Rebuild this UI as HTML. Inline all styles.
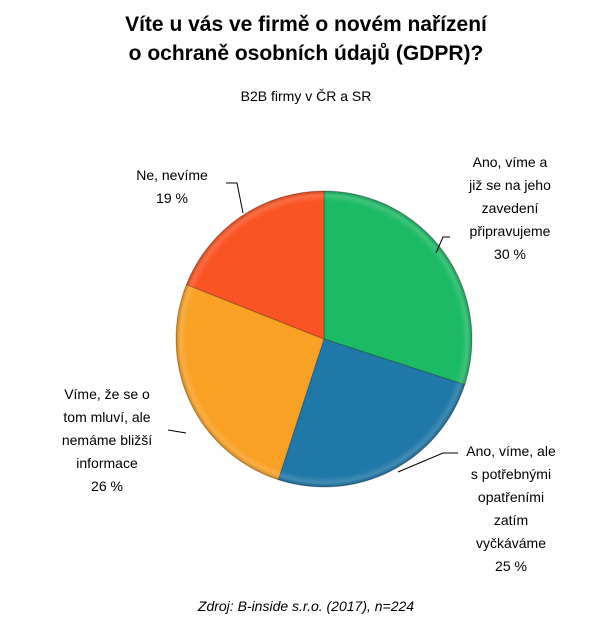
<!DOCTYPE html>
<html><head><meta charset="utf-8"><style>
body{margin:0;background:#fff;}
svg text{font-family:"Liberation Sans",sans-serif;fill:#000;}
</style></head><body>
<svg width="613" height="635" viewBox="0 0 613 635">
<defs>
<radialGradient id="bev" cx="50%" cy="50%" r="50%">
<stop offset="0.93" stop-color="#fff" stop-opacity="0"/>
<stop offset="0.97" stop-color="#fff" stop-opacity="0.15"/>
<stop offset="1" stop-color="#000" stop-opacity="0.2"/>
</radialGradient>
</defs>
<text x="306" y="31" text-anchor="middle" font-size="21" font-weight="bold">Víte u vás ve firmě o novém nařízení</text>
<text x="306" y="60" text-anchor="middle" font-size="21" font-weight="bold">o ochraně osobních údajů (GDPR)?</text>
<text x="306" y="101" text-anchor="middle" font-size="14">B2B firmy v ČR a SR</text>
<g id="slices"></g>
<circle cx="324" cy="339" r="148" fill="url(#bev)"/>
<g stroke="#000" stroke-width="1" fill="none">
<polyline points="226,183 237,183 243,213"/>
<polyline points="450,237 443,237 436,253"/>
<polyline points="458,453 443,453 398,472"/>
<polyline points="168,430 186,433"/>
</g>
<g font-size="14" text-anchor="middle">
<text><tspan x="172" y="180">Ne, nevíme</tspan><tspan x="172" y="203">19 %</tspan></text>
<text><tspan x="510" y="167">Ano, víme a</tspan><tspan x="510" y="190">již se na jeho</tspan><tspan x="510" y="213">zavedení</tspan><tspan x="510" y="236">připravujeme</tspan><tspan x="510" y="259">30 %</tspan></text>
<text><tspan x="511" y="456">Ano, víme, ale</tspan><tspan x="511" y="479">s potřebnými</tspan><tspan x="511" y="502">opatřeními</tspan><tspan x="511" y="525">zatím</tspan><tspan x="511" y="548">vyčkáváme</tspan><tspan x="511" y="571">25 %</tspan></text>
<text><tspan x="107" y="399">Víme, že se o</tspan><tspan x="107" y="422">tom mluví, ale</tspan><tspan x="107" y="445">nemáme bližší</tspan><tspan x="107" y="468">informace</tspan><tspan x="107" y="491">26 %</tspan></text>
</g>
<text x="306" y="611" text-anchor="middle" font-size="14" font-style="italic">Zdroj: B-inside s.r.o. (2017), n=224</text>
</svg>
<script>
const categories=["Ano, víme a již se na jeho zavedení připravujeme","Ano, víme, ale s potřebnými opatřeními zatím vyčkáváme","Víme, že se o tom mluví, ale nemáme bližší informace","Ne, nevíme"];
const values=[30,25,26,19];
const colors=["#1dba65","#1f78a8","#f9a125","#fb5424"];
const cx=324,cy=339,r=148;
const g=document.getElementById('slices');
const total=values.reduce((a,b)=>a+b,0);
let acc=0;
function pt(f){const a=f*2*Math.PI;return [cx+r*Math.sin(a),cy-r*Math.cos(a)];}
values.forEach((v,i)=>{
  const s=acc/total;acc+=v;const e=acc/total;
  const p0=pt(s),p1=pt(e);const large=(e-s)>0.5?1:0;
  const p=document.createElementNS('http://www.w3.org/2000/svg','path');
  p.setAttribute('d',`M${cx},${cy} L${p0[0]},${p0[1]} A${r},${r} 0 ${large} 1 ${p1[0]},${p1[1]} Z`);
  p.setAttribute('fill',colors[i]);
  p.setAttribute('stroke','rgba(0,0,0,0.25)');
  p.setAttribute('stroke-width','1');
  
  
  g.appendChild(p);
});
</script>
</body></html>
